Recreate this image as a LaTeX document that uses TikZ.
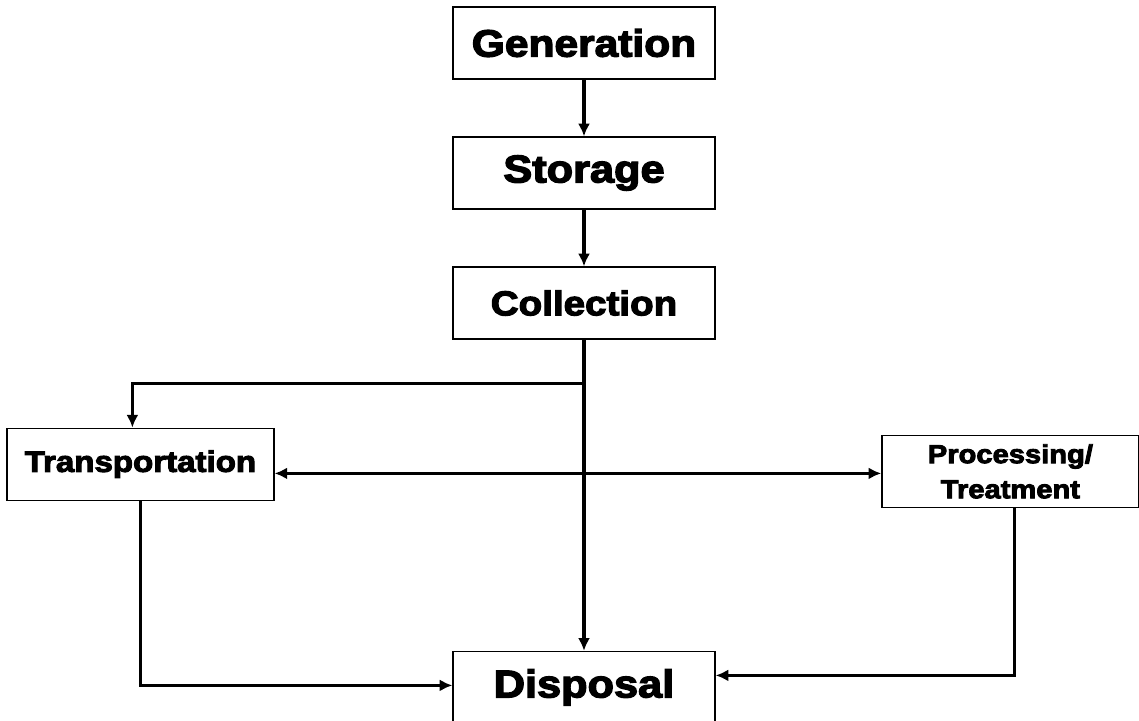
\documentclass[tikz,border=0pt]{standalone}
\usepackage{fontspec}
\setmainfont{Liberation Sans}[BoldFeatures={FakeBold=3.5,FakeStretch=1.12}]
\usepackage{tikz}
\usetikzlibrary{arrows.meta}
\usetikzlibrary{positioning}
\tikzstyle{every node}+=[inner sep=0pt]
\tikzstyle{block} = [rectangle, draw, line width=0.9pt, text centered, minimum height=1.8cm, minimum width=6.55cm]
\tikzstyle{line} = [draw, line width=2.2pt, -{Latex[length=9pt,width=8.5pt]}]
\begin{document}
\begin{tikzpicture}[node distance = 3.25cm, auto, every text node part/.style={align=center}]
            \useasboundingbox (0,0) rectangle (28.475,-18);
            % Place nodes
            \node [block, font=\bfseries\fontsize{27}{30}\selectfont] (gen) at (14.6,-1.075) {Generation};
            \node [block, below of=gen, font=\bfseries\fontsize{27.5}{30}\selectfont] (stor) {Storage};
            \node [block, below of=stor, font=\bfseries\fontsize{24.5}{26}\selectfont] (coll) {Collection};
            \coordinate [below of=coll, node distance=2.01cm] (split);
            \node [block, below of=coll, node distance=4.03cm, xshift=-11.09cm, minimum width=6.675cm, font=\bfseries\fontsize{21}{24}\selectfont] (trans) {Transportation};
            \node [block, below of=coll, node distance=4.21cm, xshift=10.66cm, minimum width=6.425cm, font=\bfseries\fontsize{18.5}{25}\selectfont] (proc) {Processing/\\Treatment};
            \node [block, below of=coll, node distance=9.61cm, font=\bfseries\fontsize{27.5}{34}\selectfont] (disp) {Disposal};
            % Draw edges
            \path [line] (gen) -- (stor);
            \path [line] (stor) -- (coll);
            \path [line] (coll) -- (disp);
            \path [line] (split) -| ([xshift=-0.2cm]trans.north);
            \path [line, {Latex[length=9pt,width=8.5pt]}-{Latex[length=9pt,width=8.5pt]}] ([yshift=-0.05cm]proc.west) -- ([yshift=-0.05cm]proc.west -| trans.east);
            \path [line] (trans.south) |- ([yshift=0.05cm]disp.west);
            \path [line] ([xshift=0.1cm]proc.south) |- ([yshift=0.3cm]disp.east);
          \end{tikzpicture}
\end{document}
